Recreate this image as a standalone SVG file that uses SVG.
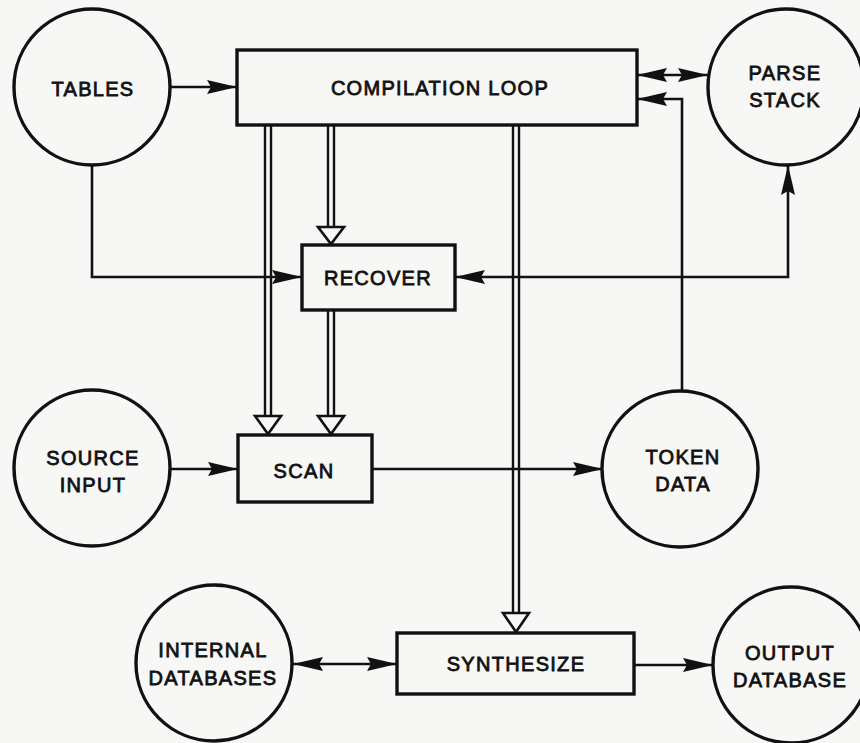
<svg xmlns="http://www.w3.org/2000/svg" width="860" height="743" viewBox="0 0 860 743">
<style>
.bg{fill:#f7f7f5}
.node{fill:none;stroke:#111;stroke-width:3.4}
.lbl{font-family:"Liberation Sans",Arial,sans-serif;font-size:20px;letter-spacing:1.3px;fill:#111;stroke:#111;stroke-width:0.8;text-anchor:middle}
.c{fill:none;stroke:#111;stroke-width:2.6}
.d{fill:none;stroke:#111;stroke-width:2.4}
.h{fill:#f7f7f5;stroke:#111;stroke-width:2.6;stroke-linejoin:miter}
</style>
<defs>
<marker id="ah" viewBox="0 0 30 16" refX="30" refY="8" markerWidth="30" markerHeight="16" markerUnits="userSpaceOnUse" orient="auto-start-reverse">
<path d="M30,8 L0,1 L4,8 L0,15 Z" fill="#111"/>
</marker>
</defs>
<rect class="bg" x="0" y="0" width="860" height="743"/>

<g id="connectors">
<line class="c" x1="170" y1="87" x2="237" y2="87" marker-end="url(#ah)"/>
<path class="c" d="M92,165 V277 H302" marker-end="url(#ah)"/>
<line class="c" x1="637" y1="75" x2="708" y2="75" marker-start="url(#ah)" marker-end="url(#ah)"/>
<path class="c" d="M682,392 V99 H637" marker-end="url(#ah)"/>
<path class="c" d="M455,277 H788 V165" marker-start="url(#ah)" marker-end="url(#ah)"/>
<line class="c" x1="170" y1="469" x2="238" y2="469" marker-end="url(#ah)"/>
<line class="c" x1="372" y1="469" x2="603" y2="469" marker-end="url(#ah)"/>
<line class="c" x1="293" y1="664" x2="397" y2="664" marker-start="url(#ah)" marker-end="url(#ah)"/>
<line class="c" x1="634" y1="665" x2="713" y2="665" marker-end="url(#ah)"/>

<g id="loop-to-scan">
<line class="d" x1="265" y1="125" x2="265" y2="416"/>
<line class="d" x1="271" y1="125" x2="271" y2="416"/>
<polygon class="h" points="255,416 281,416 268,434"/>
</g>
<g id="loop-to-recover">
<line class="d" x1="328" y1="125" x2="328" y2="227"/>
<line class="d" x1="334" y1="125" x2="334" y2="227"/>
<polygon class="h" points="318,227 344,227 331,244"/>
</g>
<g id="recover-to-scan">
<line class="d" x1="328" y1="310" x2="328" y2="416"/>
<line class="d" x1="334" y1="310" x2="334" y2="416"/>
<polygon class="h" points="318,416 344,416 331,434"/>
</g>
<g id="loop-to-synthesize">
<line class="d" x1="513" y1="125" x2="513" y2="613"/>
<line class="d" x1="519" y1="125" x2="519" y2="613"/>
<polygon class="h" points="503,613 529,613 516,632"/>
</g>
</g>

<g id="tables">
<circle class="node" cx="92" cy="87" r="78"/>
<text class="lbl" x="93" y="96">TABLES</text>
</g>
<g id="compilation-loop">
<rect class="node" x="237" y="50" width="400" height="75"/>
<text class="lbl" x="440" y="95">COMPILATION LOOP</text>
</g>
<g id="parse-stack">
<circle class="node" cx="786" cy="87" r="78"/>
<text class="lbl" x="785" y="80">PARSE</text>
<text class="lbl" x="785" y="107">STACK</text>
</g>
<g id="recover">
<rect class="node" x="302" y="245" width="153" height="65"/>
<text class="lbl" x="378" y="285">RECOVER</text>
</g>
<g id="source-input">
<circle class="node" cx="92" cy="468" r="78"/>
<text class="lbl" x="93" y="465">SOURCE</text>
<text class="lbl" x="93" y="492">INPUT</text>
</g>
<g id="scan">
<rect class="node" x="238" y="435" width="134" height="67"/>
<text class="lbl" x="304" y="478">SCAN</text>
</g>
<g id="token-data">
<circle class="node" cx="680" cy="469" r="78"/>
<text class="lbl" x="683" y="464">TOKEN</text>
<text class="lbl" x="683" y="491">DATA</text>
</g>
<g id="internal-databases">
<circle class="node" cx="214" cy="663" r="78"/>
<text class="lbl" x="213" y="657">INTERNAL</text>
<text class="lbl" x="213" y="685">DATABASES</text>
</g>
<g id="synthesize">
<rect class="node" x="397" y="633" width="237" height="61"/>
<text class="lbl" x="516" y="671">SYNTHESIZE</text>
</g>
<g id="output-database">
<circle class="node" cx="791" cy="665" r="78"/>
<text class="lbl" x="790" y="660">OUTPUT</text>
<text class="lbl" x="790" y="687">DATABASE</text>
</g>
</svg>
